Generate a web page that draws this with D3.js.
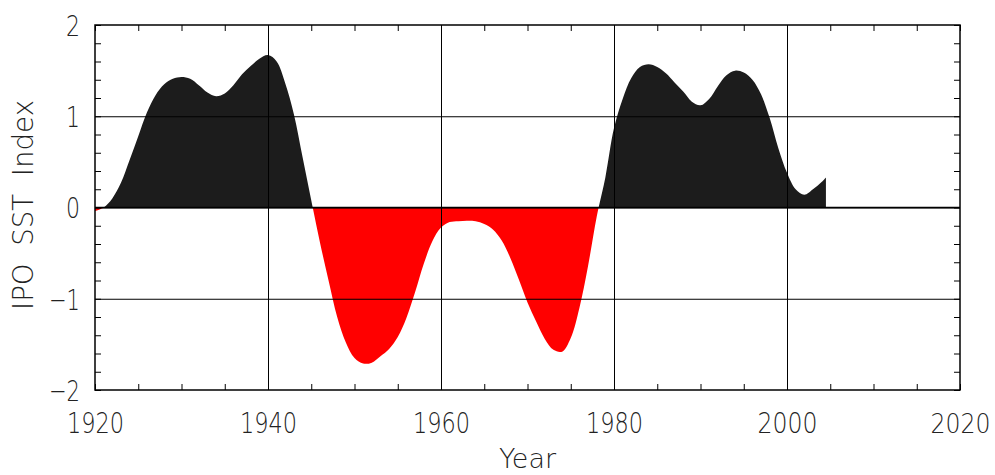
<!DOCTYPE html>
<html><head><meta charset="utf-8">
<script src="https://cdn.jsdelivr.net/npm/d3@7"></script>
<style>
html,body{margin:0;padding:0;background:#fff;}
svg text{font-family:"DejaVu Sans","Roboto",sans-serif;font-weight:200;fill:#222;}
</style></head>
<body>
<svg id="c" width="995" height="475"></svg>
<script>
const years = [1920,1921,1922,1923,1924,1925,1926,1927,1928,1929,
  1930,1931,1932,1933,1934,1935,1936,1937,1938,1939,
  1940,1941,1942,1943,1944,1945,1946,1947,1948,1949,
  1950,1951,1952,1953,1954,1955,1956,1957,1958,1959,
  1960,1961,1962,1963,1964,1965,1966,1967,1968,1969,
  1970,1971,1972,1973,1974,1975,1976,1977,1978,1979,
  1980,1981,1982,1983,1984,1985,1986,1987,1988,1989,
  1990,1991,1992,1993,1994,1995,1996,1997,1998,1999,
  2000,2001,2002,2003,2004,2004.5];
const ipo = [-0.04,0.00,0.10,0.27,0.52,0.78,1.04,1.23,1.35,1.41,
  1.43,1.41,1.34,1.26,1.22,1.25,1.34,1.46,1.55,1.63,
  1.67,1.60,1.36,1.02,0.55,0.08,-0.38,-0.80,-1.20,-1.48,
  -1.65,-1.71,-1.70,-1.63,-1.55,-1.42,-1.21,-0.93,-0.62,-0.37,
  -0.22,-0.16,-0.15,-0.145,-0.15,-0.18,-0.24,-0.36,-0.55,-0.79,
  -1.04,-1.25,-1.44,-1.56,-1.58,-1.43,-1.10,-0.64,-0.10,0.33,
  0.87,1.19,1.42,1.54,1.57,1.54,1.47,1.37,1.27,1.16,
  1.12,1.19,1.33,1.45,1.50,1.48,1.40,1.24,0.98,0.65,
  0.38,0.20,0.14,0.20,0.28,0.33];
const xMajor = [1920,1940,1960,1980,2000,2020];
const yMajor = [-2,-1,0,1,2];
const xMinor = d3.range(1920, 2021, 5);
const yMinor = d3.range(-2, 2.001, 0.2).map(v => +v.toFixed(1));

const svg = d3.select("#c");
const L = 95, R = 960, T = 25, B = 390;
const x = d3.scaleLinear().domain([1920, 2020]).range([L, R]);
const y = d3.scaleLinear().domain([-2, 2]).range([B, T]);
const data = years.map((yr, i) => ({yr, v: ipo[i]}));

const defs = svg.append("defs");
defs.append("clipPath").attr("id","pos").append("rect")
  .attr("x", L).attr("y", T).attr("width", R - L).attr("height", y(0) - T);
defs.append("clipPath").attr("id","neg").append("rect")
  .attr("x", L).attr("y", y(0)).attr("width", R - L).attr("height", B - y(0));

const area = d3.area().x(d => x(d.yr)).y0(y(0)).y1(d => y(d.v)).curve(d3.curveCatmullRom.alpha(0.5));
svg.append("path").datum(data).attr("d", area).attr("fill", "#1c1c1c").attr("clip-path","url(#pos)");
svg.append("path").datum(data).attr("d", area).attr("fill", "#ff0000").attr("clip-path","url(#neg)");

// gridlines
const gx = svg.append("g").attr("transform", `translate(0,${B})`)
  .call(d3.axisBottom(x).tickValues(xMajor.slice(1, -1)).tickSize(-(B - T)).tickFormat(""));
gx.select(".domain").remove();
gx.selectAll("line").attr("stroke", "#000").attr("stroke-width", 1);
const gy = svg.append("g").attr("transform", `translate(${L},0)`)
  .call(d3.axisLeft(y).tickValues(yMajor.slice(1, -1)).tickSize(-(R - L)).tickFormat(""));
gy.select(".domain").remove();
gy.selectAll("line").attr("stroke", "#000").attr("stroke-width", 1);

// zero baseline
svg.append("line").attr("x1", x(1920)).attr("x2", x(2020)).attr("y1", y(0)).attr("y2", y(0))
  .attr("stroke", "#000").attr("stroke-width", 1.6);

// minor ticks on all sides
function minor(g){ g.select(".domain").remove(); g.selectAll("line").attr("stroke","#000").attr("stroke-width",1); }
svg.append("g").attr("transform",`translate(0,${B})`).call(d3.axisBottom(x).tickValues(xMinor).tickSize(-6).tickFormat("")).call(minor);
svg.append("g").attr("transform",`translate(0,${T})`).call(d3.axisTop(x).tickValues(xMinor).tickSize(-6).tickFormat("")).call(minor);
svg.append("g").attr("transform",`translate(${L},0)`).call(d3.axisLeft(y).tickValues(yMinor).tickSize(-6).tickFormat("")).call(minor);
svg.append("g").attr("transform",`translate(${R},0)`).call(d3.axisRight(y).tickValues(yMinor).tickSize(-6).tickFormat("")).call(minor);

// frame
svg.append("rect").attr("x", L).attr("y", T).attr("width", R - L).attr("height", B - T)
  .attr("fill", "none").attr("stroke", "#000").attr("stroke-width", 1.5);

// labels
const xl = svg.append("g").attr("transform", `translate(0,${B})`)
  .call(d3.axisBottom(x).tickValues(xMajor).tickSize(0).tickFormat(d3.format("d")));
xl.select(".domain").remove();
xl.selectAll("text").attr("y", 43).attr("dy", null).attr("fill","#222")
  .attr("font-size", d => d === 2020 ? 26 : 29)
  .attr("textLength", d => String(d)[0] === "1" ? 57 : 60).attr("lengthAdjust", "spacingAndGlyphs");

const yl = svg.append("g").attr("transform", `translate(${L},0)`)
  .call(d3.axisLeft(y).tickValues(yMajor).tickSize(0).tickPadding(15).tickFormat(d3.format("d")));
yl.select(".domain").remove();
yl.selectAll("text").attr("dy", "0.36em").attr("font-size", 29).attr("fill","#222")
  .attr("textLength", d => d < 0 ? 31 : 14).attr("lengthAdjust","spacingAndGlyphs");

svg.append("text").attr("x", (L + R) / 2).attr("y", 468).attr("text-anchor", "middle")
  .attr("font-size", 27).attr("textLength", 57).attr("lengthAdjust","spacingAndGlyphs").text("Year");

svg.append("text").attr("transform", `translate(33,205) rotate(-90)`).attr("text-anchor", "middle")
  .attr("font-size", 28).attr("textLength", 210).attr("lengthAdjust","spacingAndGlyphs")
  .attr("xml:space","preserve").style("white-space","pre").text("IPO  SST  Index");
</script>
</body></html>
